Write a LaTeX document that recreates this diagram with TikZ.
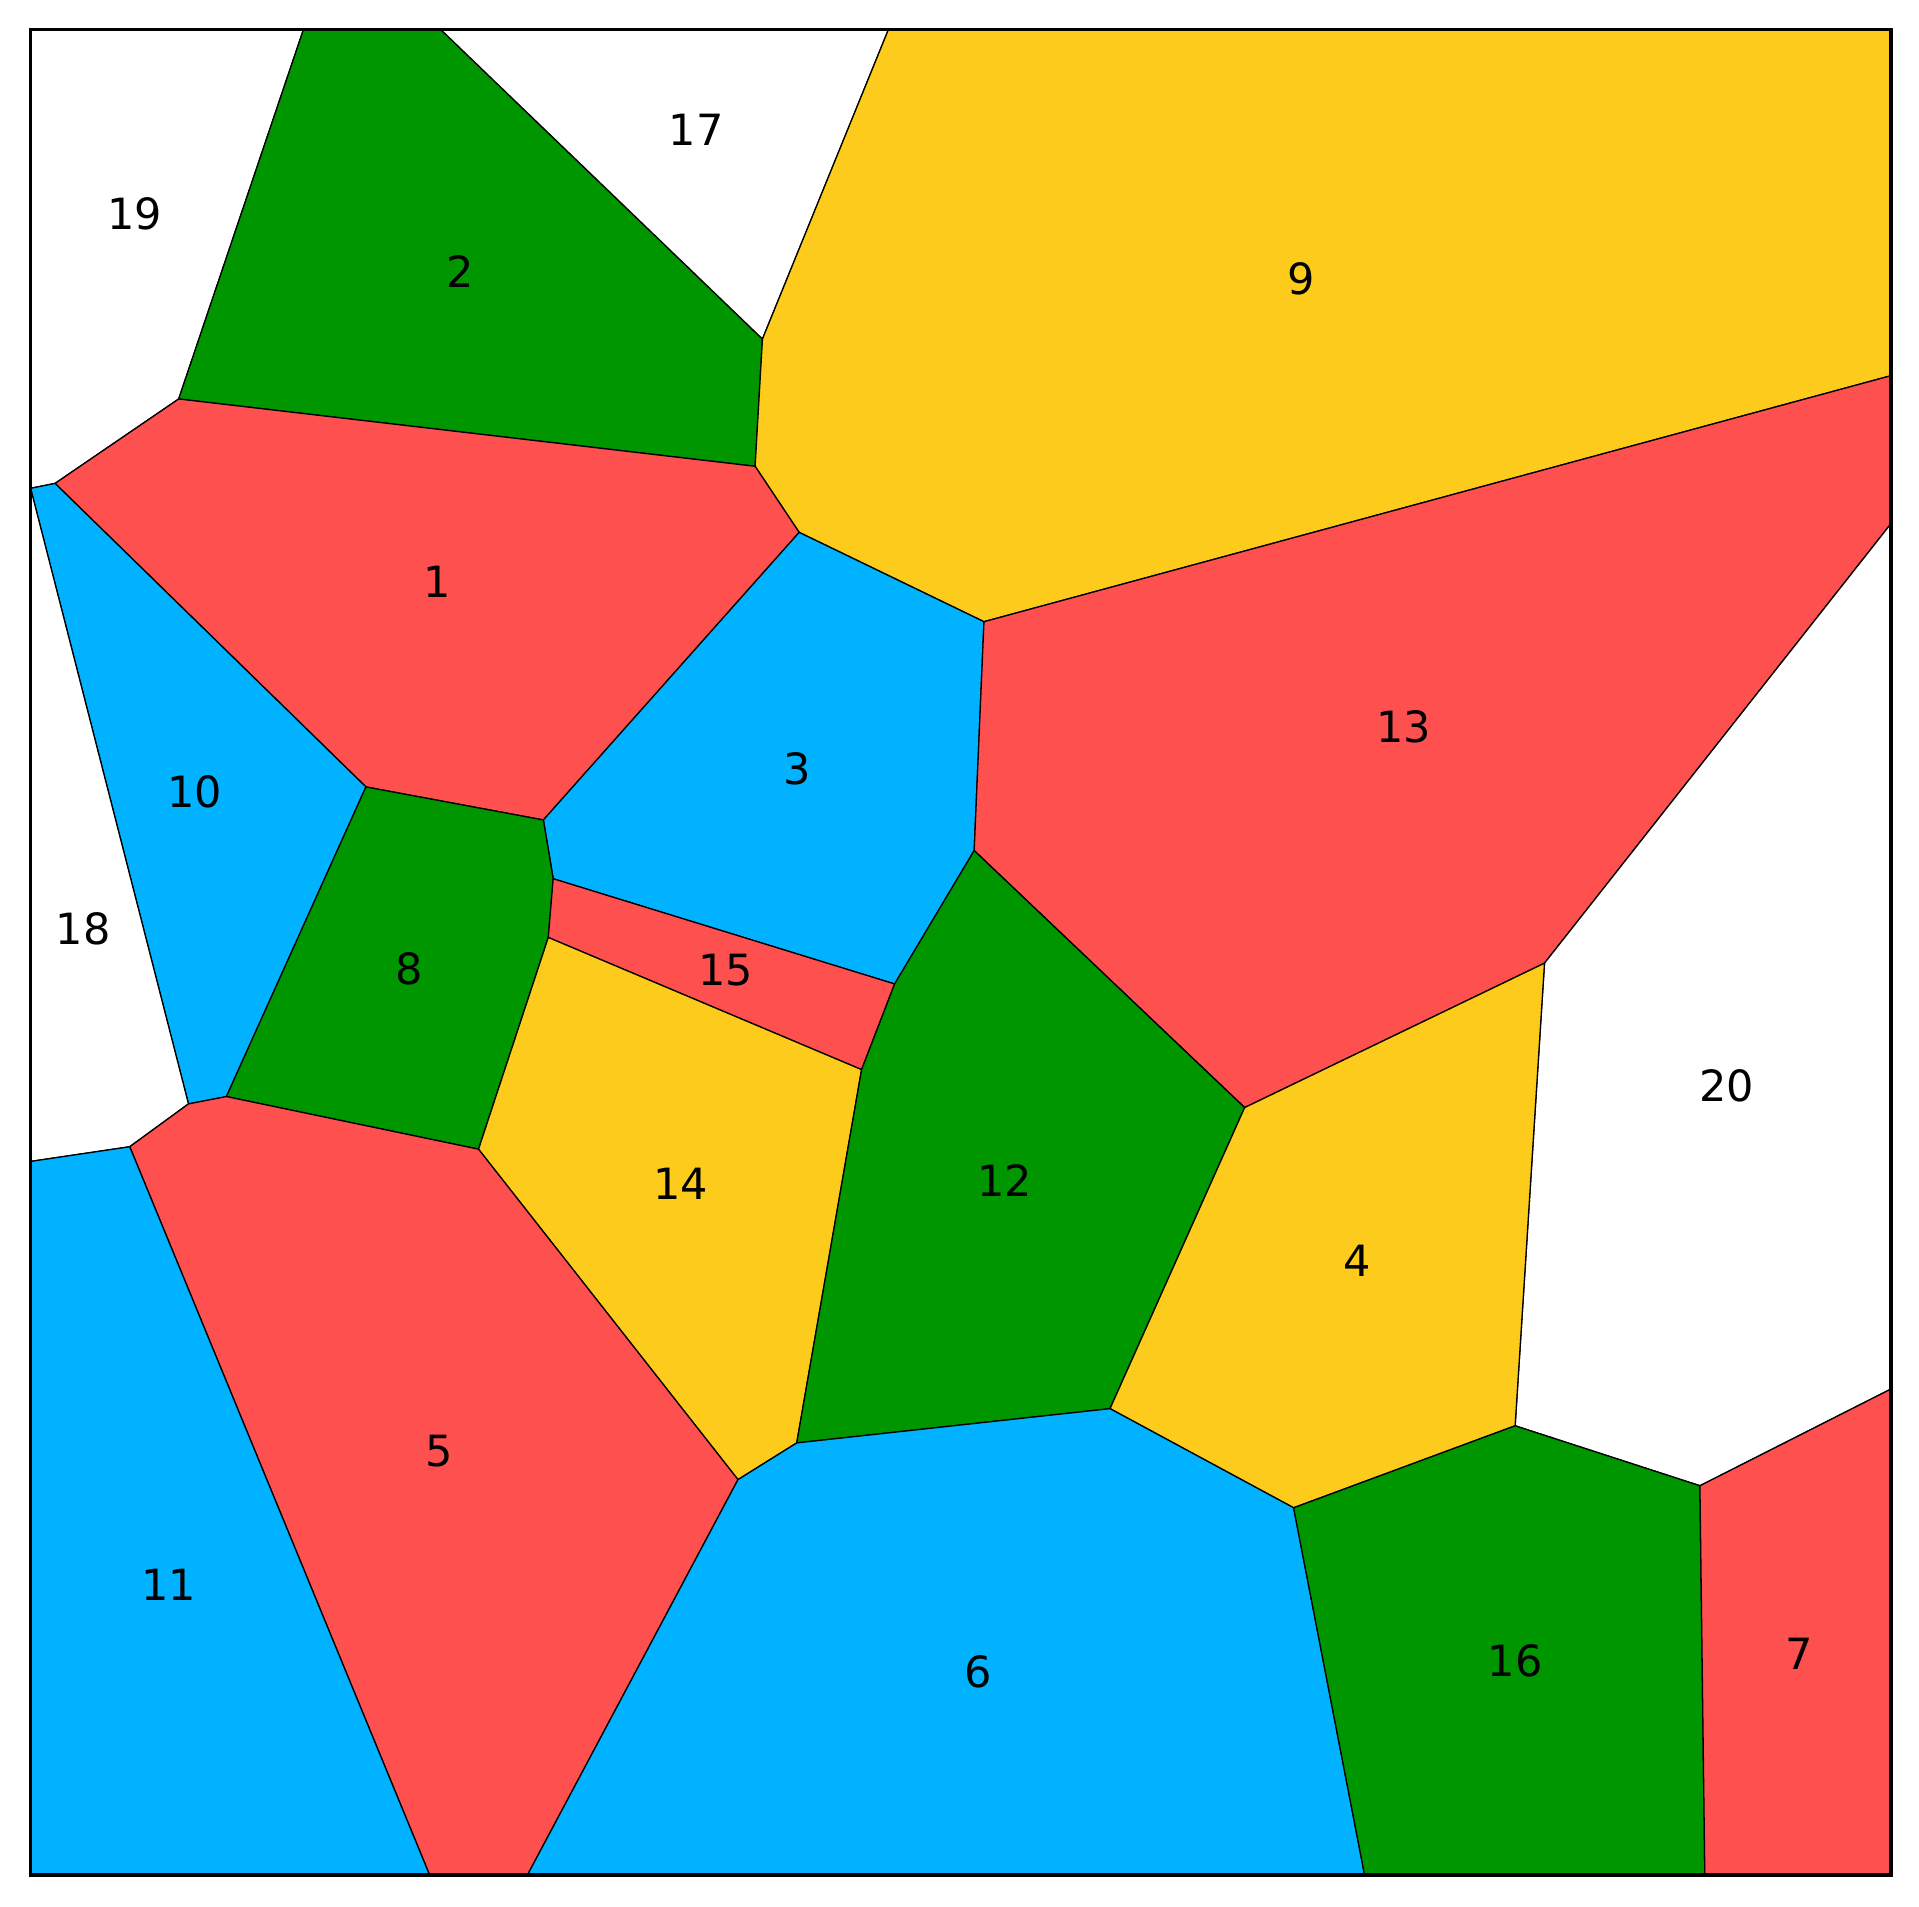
\documentclass[tikz,border=0pt]{standalone}
\usepackage{fontspec}
\setmainfont{DejaVu Sans}
\definecolor{cred}{RGB}{255,80,80}
\definecolor{cgreen}{RGB}{0,150,0}
\definecolor{cblue}{RGB}{0,178,255}
\definecolor{cyellow}{RGB}{253,203,28}
\begin{document}
\begin{tikzpicture}[x=0.01cm,y=-0.01cm,
  cell/.style={draw=black,line width=0.3pt,line join=round},
  lbl/.style={font=\fontsize{10}{12}\selectfont,inner sep=0pt}]
\useasboundingbox (0,0) rectangle (1568,1558);
% frame corners
\coordinate (TL) at (25,24); \coordinate (TR) at (1545,24);
\coordinate (BL) at (25,1532); \coordinate (BR) at (1545,1532);
% vertices
\coordinate (A) at (248,24);   \coordinate (B) at (360,24);
\coordinate (C) at (726,24);   \coordinate (D) at (623,277);
\coordinate (E) at (617,381);  \coordinate (F) at (146,326);
\coordinate (G) at (45,395);   \coordinate (H) at (25,399);
\coordinate (I) at (653,435);  \coordinate (J) at (804,508);
\coordinate (K) at (1545,307); \coordinate (L) at (1545,428);
\coordinate (M) at (299,643);  \coordinate (N) at (444,670);
\coordinate (O) at (452,718);  \coordinate (P) at (448,766);
\coordinate (Q) at (796,695);  \coordinate (R) at (731,804);
\coordinate (S) at (704,874);  \coordinate (T) at (154,902);
\coordinate (U) at (185,896);  \coordinate (V) at (106,937);
\coordinate (W) at (25,949);   \coordinate (X) at (391,939);
\coordinate (Y) at (1017,905); \coordinate (Z) at (1262,787);
\coordinate (AA) at (907,1151);\coordinate (AB) at (651,1179);
\coordinate (AC) at (603,1209);\coordinate (AD) at (1057,1232);
\coordinate (AE) at (1238,1165);\coordinate (AF) at (1389,1214);
\coordinate (AG) at (1545,1135);
\coordinate (b1) at (351,1532); \coordinate (b2) at (431,1532);
\coordinate (b3) at (1115,1532);\coordinate (b4) at (1393,1532);
% cells
\path[cell,fill=white]   (TL) -- (A) -- (F) -- (G) -- (H) -- cycle;
\path[cell,fill=cgreen]  (A) -- (B) -- (D) -- (E) -- (F) -- cycle;
\path[cell,fill=white]   (B) -- (C) -- (D) -- cycle;
\path[cell,fill=cyellow] (C) -- (TR) -- (K) -- (J) -- (I) -- (E) -- (D) -- cycle;
\path[cell,fill=cred]    (F) -- (E) -- (I) -- (N) -- (M) -- (G) -- cycle;
\path[cell,fill=cblue]   (H) -- (G) -- (M) -- (U) -- (T) -- cycle;
\path[cell,fill=white]   (H) -- (T) -- (V) -- (W) -- cycle;
\path[cell,fill=cblue]   (I) -- (J) -- (Q) -- (R) -- (O) -- (N) -- cycle;
\path[cell,fill=cred]    (J) -- (K) -- (L) -- (Z) -- (Y) -- (Q) -- cycle;
\path[cell,fill=white]   (L) -- (AG) -- (AF) -- (AE) -- (Z) -- cycle;
\path[cell,fill=cgreen]  (M) -- (N) -- (O) -- (P) -- (X) -- (U) -- cycle;
\path[cell,fill=cred]    (O) -- (R) -- (S) -- (P) -- cycle;
\path[cell,fill=cyellow] (P) -- (S) -- (AB) -- (AC) -- (X) -- cycle;
\path[cell,fill=cgreen]  (Q) -- (Y) -- (AA) -- (AB) -- (S) -- (R) -- cycle;
\path[cell,fill=cyellow] (Y) -- (Z) -- (AE) -- (AD) -- (AA) -- cycle;
\path[cell,fill=cred]    (T) -- (U) -- (X) -- (AC) -- (b2) -- (b1) -- (V) -- cycle;
\path[cell,fill=cblue]   (W) -- (V) -- (b1) -- (BL) -- cycle;
\path[cell,fill=cblue]   (AC) -- (AB) -- (AA) -- (AD) -- (b3) -- (b2) -- cycle;
\path[cell,fill=cgreen]  (AD) -- (AE) -- (AF) -- (b4) -- (b3) -- cycle;
\path[cell,fill=cred]    (AF) -- (AG) -- (BR) -- (b4) -- cycle;
% frame
\draw[line width=0.8pt] (TL) rectangle (BR);
% labels
\node[lbl] (n19) at (110,175) {19};
\node[lbl] (n2) at (376,222) {2};
\node[lbl] (n17) at (569,106) {17};
\node[lbl] (n9) at (1063,228) {9};
\node[lbl] (n1) at (357,475) {1};
\node[lbl] (n10) at (159,647) {10};
\node[lbl] (n18) at (68,759) {18};
\node[lbl] (n3) at (651,628) {3};
\node[lbl] (n13) at (1147,594) {13};
\node[lbl] (n20) at (1411,887) {20};
\node[lbl] (n8) at (334,792) {8};
\node[lbl] (n15) at (593,793) {15};
\node[lbl] (n14) at (556,967) {14};
\node[lbl] (n12) at (821,965) {12};
\node[lbl] (n4) at (1109,1030) {4};
\node[lbl] (n5) at (359,1186) {5};
\node[lbl] (n11) at (138,1295) {11};
\node[lbl] (n6) at (799,1366) {6};
\node[lbl] (n16) at (1238,1357) {16};
\node[lbl] (n7) at (1470,1351) {7};
\end{tikzpicture}
\end{document}
